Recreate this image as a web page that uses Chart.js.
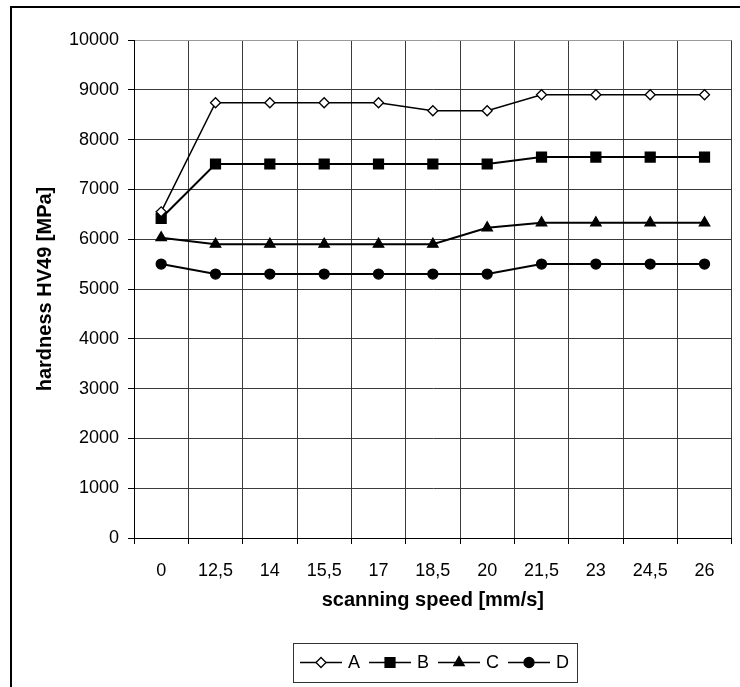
<!DOCTYPE html>
<html>
<head>
<meta charset="utf-8">
<title>hardness vs scanning speed</title>
<script src="https://cdn.jsdelivr.net/npm/chart.js@4/dist/chart.umd.min.js"></script>
<style>
  html, body { margin: 0; padding: 0; background: #fff; }
  #wrap { width: 740px; height: 687px; }
</style>
</head>
<body>
<div id="wrap"><canvas id="chart" width="740" height="687"></canvas></div>
<script>
"use strict";

const SPEEDS = ["0", "12,5", "14", "15,5", "17", "18,5", "20", "21,5", "23", "24,5", "26"];
const SERIES_A = [6550, 8740, 8740, 8740, 8740, 8580, 8580, 8900, 8900, 8900, 8900];
const SERIES_B = [6420, 7510, 7510, 7510, 7510, 7510, 7510, 7650, 7650, 7650, 7650];
const SERIES_C = [6030, 5900, 5900, 5900, 5900, 5900, 6230, 6330, 6330, 6330, 6330];
const SERIES_D = [5500, 5300, 5300, 5300, 5300, 5300, 5300, 5500, 5500, 5500, 5500];
const Y_MIN = 0, Y_MAX = 10000, Y_STEP = 1000;

const FONT = "'Liberation Sans', Arial, Helvetica, sans-serif";
const GRID = "#3a3a3a";
const EDGE = "#9a9a9a";

const series = (label, data, style, radius, fill, width) => ({
  label,
  data,
  borderColor: "#000",
  borderWidth: width,
  pointStyle: style,
  pointRadius: radius,
  pointHoverRadius: radius,
  pointBackgroundColor: fill,
  pointBorderColor: "#000",
  pointBorderWidth: 1.3,
  tension: 0,
  fill: false,
});

// outer frame of the figure
const framePlugin = {
  id: "frame",
  afterDraw(chart) {
    const ctx = chart.ctx;
    ctx.save();
    ctx.strokeStyle = "#000";
    ctx.lineWidth = 2;
    ctx.strokeRect(11, 7, 800, 800);
    ctx.restore();
  },
};

// boxed legend with line + marker samples, like the spreadsheet one
const boxLegend = {
  id: "boxLegend",
  afterDraw(chart) {
    const ctx = chart.ctx;
    const box = { x: 293, y: 643, w: 284, h: 39 };
    const cy = box.y + box.h / 2;
    ctx.save();
    ctx.strokeStyle = "#333";
    ctx.lineWidth = 1;
    ctx.strokeRect(box.x + 0.5, box.y + 0.5, box.w, box.h);
    ctx.font = "18px " + FONT;
    ctx.textBaseline = "middle";
    ctx.textAlign = "left";
    let x = box.x + 7;
    chart.data.datasets.forEach((ds) => {
      ctx.strokeStyle = "#000";
      ctx.lineWidth = 1.5;
      ctx.beginPath();
      ctx.moveTo(x, cy);
      ctx.lineTo(x + 42, cy);
      ctx.stroke();
      ctx.fillStyle = ds.pointBackgroundColor;
      ctx.lineWidth = ds.pointBorderWidth;
      Chart.helpers.drawPoint(ctx, {
        pointStyle: ds.pointStyle,
        radius: ds.pointRadius,
        borderWidth: ds.pointBorderWidth,
        rotation: 0,
      }, x + 21, cy);
      ctx.fillStyle = "#000";
      ctx.fillText(ds.label, x + 48, cy + 1);
      x += 48 + ctx.measureText(ds.label).width + 9;
    });
    ctx.restore();
  },
};

new Chart(document.getElementById("chart"), {
  type: "line",
  data: {
    labels: SPEEDS,
    datasets: [
      series("A", SERIES_A, "rectRot", 5, "#fff", 1.5),
      series("B", SERIES_B, "rect", 7, "#000", 2),
      series("C", SERIES_C, "triangle", 6, "#000", 2),
      series("D", SERIES_D, "circle", 5, "#000", 2),
    ],
  },
  options: {
    responsive: false,
    animation: false,
    devicePixelRatio: 1,
    layout: { padding: { top: 40, right: 4, left: 0, bottom: 0 } },
    plugins: { legend: { display: false }, tooltip: { enabled: false } },
    scales: {
      x: {
        offset: true,
        grid: {
          offset: true,
          color: (c) => (c.index === SPEEDS.length ? EDGE : GRID),
          tickColor: "#000",
          tickLength: 6,
          lineWidth: 1,
        },
        border: { color: "#000", width: 1 },
        ticks: { color: "#000", font: { family: FONT, size: 18 }, padding: 16, maxRotation: 0, autoSkip: false },
        title: {
          display: true,
          text: "scanning speed [mm/s]",
          color: "#000",
          font: { family: FONT, size: 20, weight: "bold" },
          padding: { top: 0, bottom: 75 },
        },
        afterFit: (s) => { s.height = 149; },
      },
      y: {
        min: Y_MIN,
        max: Y_MAX,
        grid: {
          color: (c) => (c.tick && c.tick.value === Y_MAX ? EDGE : GRID),
          tickColor: "#000",
          tickLength: 6,
          lineWidth: 1,
        },
        border: { color: "#000", width: 1 },
        ticks: {
          stepSize: Y_STEP,
          color: "#000",
          font: { family: FONT, size: 18 },
          padding: 9,
          callback: (v) => String(v), // no thousands separator
        },
        title: {
          display: true,
          text: "hardness HV49 [MPa]",
          color: "#000",
          font: { family: FONT, size: 20, weight: "bold" },
          padding: { top: 33, bottom: 0 },
        },
        afterFit: (s) => { s.width = 134; },
      },
    },
  },
  plugins: [framePlugin, boxLegend],
});
</script>
</body>
</html>
